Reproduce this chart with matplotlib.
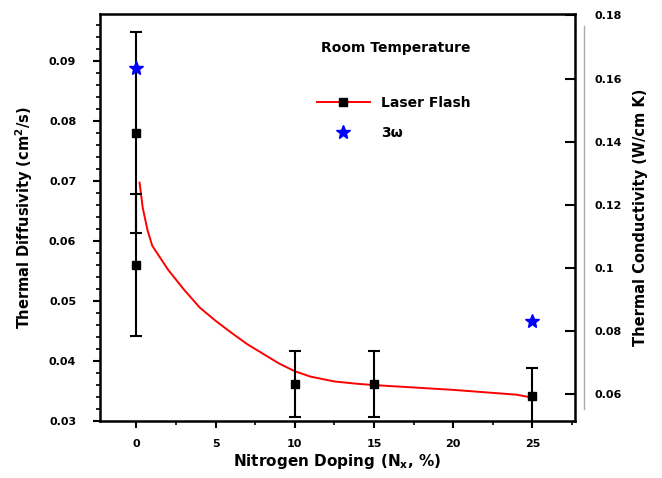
import numpy as np
import matplotlib
matplotlib.use("Agg")
import matplotlib.pyplot as plt
from matplotlib.lines import Line2D
from matplotlib.ticker import MultipleLocator, FixedLocator, FixedFormatter

# Laser flash measurements (left axis, cm^2/s)
flash_x = [0, 0, 10, 15, 25]
flash_y = [0.078, 0.056, 0.0362, 0.0362, 0.0342]
flash_err = [0.0167, 0.0118, 0.0055, 0.0055, 0.0046]

# fitted curve
fit_x = [0.2, 0.4, 0.7, 1.0, 1.5, 2.0, 3.0, 4.0, 5.0, 6.0, 7.0, 8.0, 9.0, 10.0,
         11.0, 12.5, 14.0, 15.0, 17.5, 20.0, 22.5, 24.0, 25.0]
fit_y = [0.0697, 0.0655, 0.0618, 0.0592, 0.0572, 0.0552, 0.0519, 0.0489, 0.0467,
         0.0447, 0.0428, 0.0412, 0.0396, 0.0383, 0.0374, 0.0366, 0.0362, 0.0360,
         0.0356, 0.0352, 0.0347, 0.0344, 0.0339]

# 3-omega measurements (right axis, W/cm K)
omega_x = [0, 25]
omega_y = [0.1635, 0.0833]

left_ticks = [0.03, 0.04, 0.05, 0.06, 0.07, 0.08, 0.09]
left_labels = ["0.03", "0.04", "0.05", "0.06", "0.07", "0.08", "0.09"]
right_ticks = [0.06, 0.08, 0.10, 0.12, 0.14, 0.16, 0.18]
right_labels = ["0.06", "0.08", "0.1", "0.12", "0.14", "0.16", "0.18"]
x_ticks = [0, 5, 10, 15, 20, 25]

plt.rcParams['font.family'] = ['DejaVu Sans']
plt.rcParams['font.weight'] = 'bold'

fig = plt.figure(figsize=(6.62, 4.78), dpi=100)
ax = fig.add_axes([0.151, 0.119, 0.718, 0.852])

ax.plot(fit_x, fit_y, color='red', lw=1.4, zorder=2)
ax.errorbar(flash_x, flash_y, yerr=flash_err, fmt='s', color='black', ms=5.5,
            ecolor='black', elinewidth=1.5, capsize=4, capthick=1.5, zorder=3)

ax.set_xlim(-2.3, 27.7)
ax.set_ylim(0.03, 0.0978)
ax.xaxis.set_major_locator(FixedLocator(x_ticks))
ax.xaxis.set_minor_locator(MultipleLocator(2.5))
ax.yaxis.set_major_locator(FixedLocator(left_ticks))
ax.yaxis.set_major_formatter(FixedFormatter(left_labels))
ax.yaxis.set_minor_locator(MultipleLocator(0.002))
ax.tick_params(axis='both', which='major', direction='out', length=5, width=1.5, labelsize=8)
ax.tick_params(axis='both', which='minor', direction='out', length=3, width=1.2)
ax.tick_params(axis='x', pad=8)
ax.tick_params(axis='y', pad=12)
for s in ax.spines.values():
    s.set_linewidth(1.8)

ax.set_xlabel("Nitrogen Doping (N$_\\mathbf{x}$, %)", fontsize=11, fontweight='bold', labelpad=2)
ax.set_ylabel("Thermal Diffusivity (cm$^\\mathbf{2}$/s)", fontsize=10.5, fontweight='bold', labelpad=10)

ax2 = ax.twinx()
ax2.plot(omega_x, omega_y, linestyle='none', marker='*', color='blue', ms=10, zorder=4)
ax2.set_ylim(0.0515, 0.1805)
ax2.yaxis.set_major_locator(FixedLocator(right_ticks))
ax2.yaxis.set_major_formatter(FixedFormatter(right_labels))
ax2.tick_params(axis='y', direction='in', length=7, width=1.5, labelsize=8, pad=14)
for s in ax2.spines.values():
    s.set_visible(False)
ax2.set_ylabel("Thermal Conductivity (W/cm K)", fontsize=10.5, fontweight='bold', labelpad=8)
# thin grey axis line beside the frame
ax2.add_line(Line2D([1.018, 1.018], [0.03, 0.97], transform=ax2.transAxes,
                    color='#aaaaaa', lw=1, clip_on=False))

ax.text(0.465, 0.915, "Room Temperature", transform=ax.transAxes, fontsize=10,
        fontweight='bold', va='center')

handles = [Line2D([], [], color='red', lw=1.4, marker='s', mfc='black', mec='black', ms=5.5),
           Line2D([], [], linestyle='none', marker='*', color='blue', ms=10)]
ax.legend(handles, ["Laser Flash", "3\u03c9"], loc='upper left',
          bbox_to_anchor=(0.43, 0.83), frameon=False,
          handlelength=3.8, labelspacing=1.2, prop={'weight': 'bold', 'size': 10})

fig.savefig("out.png", dpi=100)
